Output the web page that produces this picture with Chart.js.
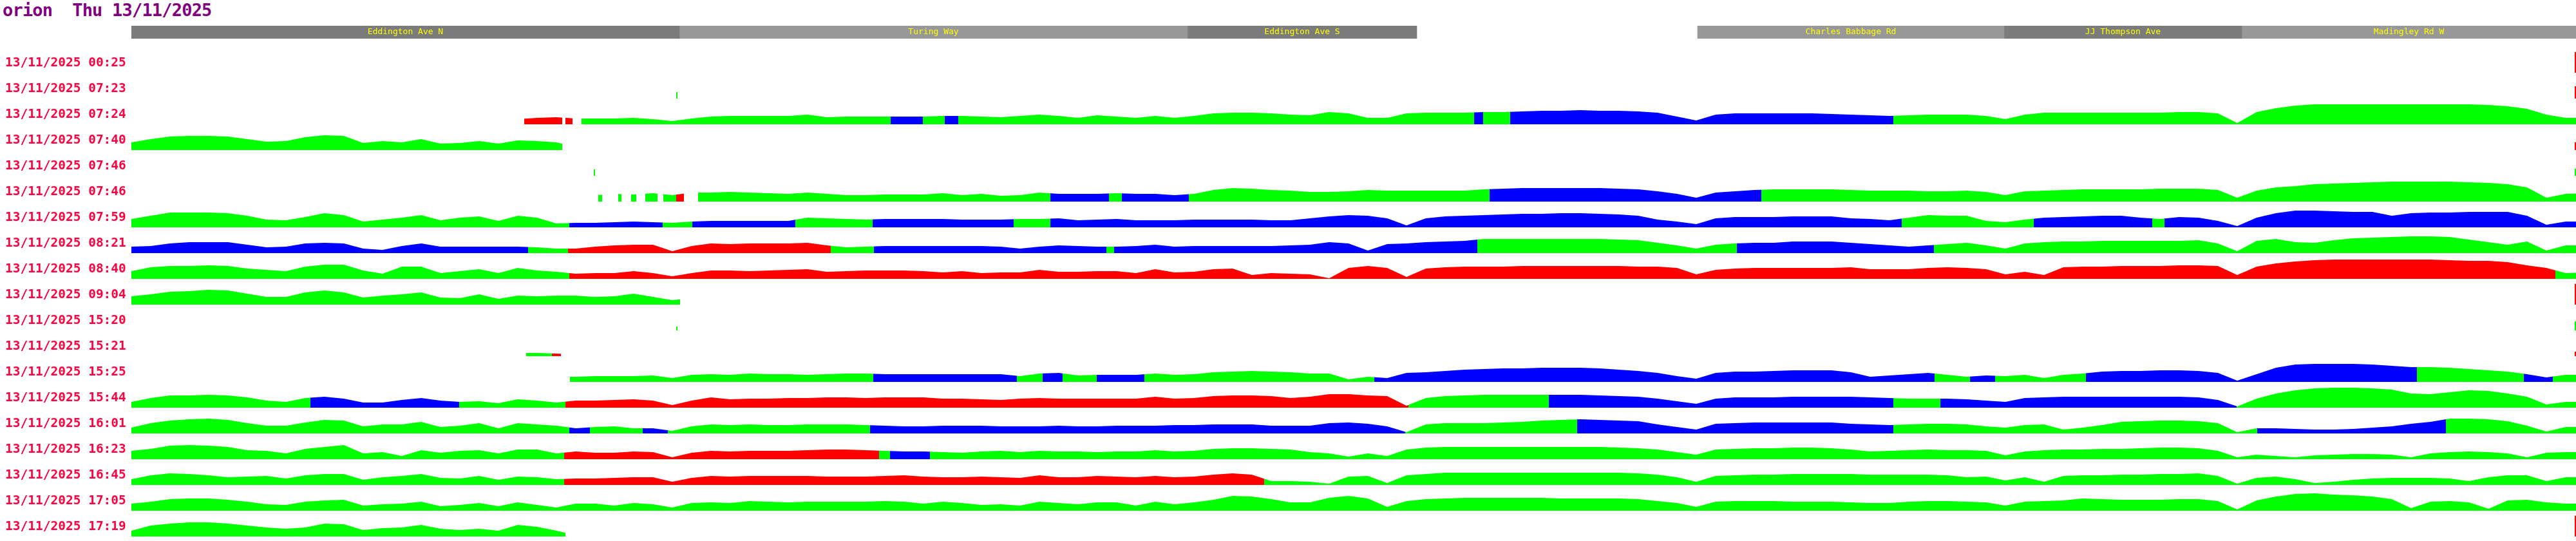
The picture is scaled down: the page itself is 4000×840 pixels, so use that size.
<!DOCTYPE html>
<html>
<head>
<meta charset="utf-8">
<script src="https://cdn.jsdelivr.net/npm/chart.js@4.4.1/dist/chart.umd.min.js"></script>
<style>
  html, body { margin: 0; padding: 0; background: #fff; }
  #wrap { position: relative; width: 4000px; height: 840px; }
  #title { position: absolute; left: 4px; top: 2px; font: bold 27px/27px "DejaVu Sans Mono", monospace;
           letter-spacing: -0.8px; color: #800080; white-space: pre; }
  #streets { position: absolute; left: 0; top: 40px; }
  #trips { position: absolute; left: 0; top: 60px; }
</style>
</head>
<body>
<div id="wrap">
  <div id="title">orion  Thu 13/11/2025</div>
  <canvas id="streets" width="4000" height="20"></canvas>
  <canvas id="trips" width="4000" height="780"></canvas>
</div>
<script>
/* ---------- route streets (header strip) ---------- */
const streetNames = ["Eddington Ave N", "Turing Way", "Eddington Ave S", "Charles Babbage Rd", "JJ Thompson Ave", "Madingley Rd W"];
const streetFrom  = [0, 851, 1640, 2432, 2908, 3277];
const streetTo    = [851, 1640, 1996, 2908, 3277, 3796];
const streetShade = ["#7b7b7b", "#989898", "#7b7b7b", "#989898", "#7b7b7b", "#989898"];

/* ---------- trips ---------- */
const tripLabels = [
  "13/11/2025 00:25", "13/11/2025 07:23", "13/11/2025 07:24", "13/11/2025 07:40",
  "13/11/2025 07:46", "13/11/2025 07:46", "13/11/2025 07:59", "13/11/2025 08:21",
  "13/11/2025 08:40", "13/11/2025 09:04", "13/11/2025 15:20", "13/11/2025 15:21",
  "13/11/2025 15:25", "13/11/2025 15:44", "13/11/2025 16:01", "13/11/2025 16:23",
  "13/11/2025 16:45", "13/11/2025 17:05", "13/11/2025 17:19",
];
// route position of the first speed sample of each trip
const tripStart = [0, 0, 600, 0, 0, 720, 0, 0, 0, 0, 0, 600, 660, 0, 0, 0, 0, 0, 0];

// speed samples, one every 30 m along the route
const s0025 = [];
const s0723 = [];
const s0724 = [
  8,10,11,9,9,9,10,8,5,9, 12,13,13,13,13,15,11,12,12,12, 12,12,13,13,12,11,13,15,13,10,
  14,12,10,13,10,13,17,18,18,17, 15,14,19,17,10,10,17,18,18,18, 19,19,20,21,21,22,21,21,20,18,
  12,6,15,17,17,17,17,17,16,15, 14,13,14,15,15,15,13,8,15,18, 18,18,18,18,18,18,19,19,17,2,
  19,25,29,31,31,31,31,31,31,31, 31,31,30,28,24,15,10,10];
const s0740 = [12,17,21,22,22,21,17,13,14,20, 23,22,11,14,12,17,10,11,14,10, 15,14,12,5];
const s0746a = [];
const s0746b = [
  10,12,11,13,10,14, 14,15,14,13,12,14,12,10,10,11, 11,11,13,10,12,9,10,14,12,12,
  12,13,12,12,10,12,18,21,20,18, 17,15,15,16,18,17,17,17,17,17, 19,20,21,21,21,21,21,20,19,16,
  12,6,14,16,18,19,19,19,19,18, 17,17,17,16,16,17,15,10,16,17, 18,19,19,19,19,20,20,20,18,6,
  17,22,24,27,28,29,30,31,31,31, 31,30,29,27,22,6,12,13];
const s0759 = [
  13,18,23,23,23,22,18,12,11,16, 22,19,9,12,15,19,11,15,17,10, 18,15,6,7,7,8,9,8,7,9,
  10,10,10,10,10,15,14,13,12,13, 13,13,13,12,12,12,13,13,14,11, 12,13,11,11,11,12,12,12,12,11,
  11,14,17,19,18,14,3,14,17,18, 19,20,21,21,22,22,21,20,18,12, 9,5,14,16,16,16,17,17,17,14,
  13,11,15,19,18,18,10,8,12,15, 16,17,18,18,15,13,16,15,10,2, 15,22,26,26,25,24,24,18,22,23,
  23,24,24,24,18,4,9,9];
const s0821 = [
  10,11,15,17,17,17,13,9,10,15, 16,15,7,5,11,15,10,10,10,10, 10,9,7,7,10,12,13,13,3,11,
  15,14,15,15,15,16,12,9,10,11, 11,11,11,11,11,10,7,10,12,11, 10,10,11,13,10,11,11,11,11,11,
  12,13,17,15,4,14,15,17,18,19, 22,22,22,22,22,22,22,21,20,16, 12,7,13,15,16,16,18,18,18,16,
  14,12,10,12,14,16,12,7,15,17, 18,18,19,19,19,19,19,20,15,3, 19,22,17,16,20,23,24,25,26,26,
  25,21,17,13,18,4,12,12];
const s0840 = [
  12,18,20,20,21,20,16,14,12,19, 22,22,13,8,19,19,9,12,15,9, 17,13,11,8,9,9,12,9,4,9,
  13,13,12,13,14,15,11,12,13,13, 13,12,10,12,9,10,10,14,11,11, 12,12,9,15,10,11,15,16,6,9,
  8,7,1,17,20,17,3,16,18,19, 19,19,20,20,20,20,20,20,19,19, 17,7,14,16,17,17,17,17,17,18,
  15,15,15,17,18,17,15,7,11,6, 18,19,19,20,20,20,21,21,20,6, 19,24,27,29,30,30,30,30,30,30,
  29,28,28,26,21,17,9,10];
const s0904 = [13,16,20,21,23,22,17,12,12,19, 22,19,11,14,16,19,11,10,16,9, 14,13,14,14,12,13,17,12,7,10];
const s1520 = [];
const s1521 = [5,5,4,3];
const s1525 = [
  8,8,9,9,9,10,6,11, 12,11,13,12,12,11,12,13,13,12, 12,12,12,12,12,12,9,13,14,10,
  11,11,11,13,11,12,15,16,17,16, 15,13,13,4,8,6,14,15,17,19, 20,21,21,22,22,22,21,19,17,14,
  9,5,14,16,16,17,18,18,18,15, 8,10,12,14,11,8,10,9,11,6, 11,13,16,17,17,18,18,17,14,2,
  12,22,27,28,28,28,27,25,23,23, 22,20,18,16,12,7,11,11];
const s1544 = [
  9,15,19,19,20,19,16,11,9,15, 17,14,8,8,12,15,11,9,10,7, 13,11,8,11,11,12,13,11,4,11,
  16,13,14,14,15,15,16,16,15,16, 16,16,14,14,13,12,14,15,14,14, 14,14,14,17,14,15,18,19,19,18,
  15,17,21,21,19,18,3,15,18,19, 20,20,20,20,20,20,19,18,17,14, 10,6,14,16,16,16,17,17,17,17,
  16,15,14,14,14,13,11,9,15,16, 17,17,17,17,17,17,17,16,12,2, 14,22,27,30,31,31,30,28,22,21,
  24,27,26,22,17,5,9,9];
const s1601 = [
  9,16,20,22,23,21,16,12,12,17, 21,20,11,14,14,18,10,12,16,8, 16,14,12,8,10,11,8,8,4,11,
  14,13,14,13,13,14,14,14,13,12, 11,11,12,12,12,11,11,11,12,11, 11,12,12,12,13,13,14,14,14,12,
  12,12,16,17,15,11,2,14,16,16, 16,17,18,20,21,22,21,20,19,14, 10,6,15,16,17,17,17,17,17,15,
  14,13,14,15,15,14,11,9,13,14, 6,9,13,18,19,20,20,19,16,2, 8,8,7,6,6,7,9,11,15,18,
  23,23,22,19,12,3,10,10];
const s1623 = [
  13,16,21,22,21,19,14,13,9,16, 19,22,9,11,5,14,10,13,14,9, 15,15,9,12,10,10,12,11,3,10,
  13,12,13,13,13,14,15,15,14,13, 12,12,11,10,12,13,11,13,12,12, 11,12,12,14,12,13,16,17,17,16,
  15,11,9,4,9,5,15,18,19,19, 19,19,19,19,19,19,19,18,17,15, 11,7,15,16,17,17,18,18,17,15,
  12,13,14,15,14,14,13,6,12,14, 15,15,16,16,17,18,18,17,13,3, 7,5,3,6,7,8,8,7,3,9,
  11,12,11,9,3,10,11,11];
const s1645 = [
  9,15,18,17,15,12,13,14,10,15, 17,17,8,12,14,17,11,10,14,8, 13,12,9,10,10,11,12,12,5,11,
  14,13,14,14,14,14,13,13,13,14, 15,13,12,12,13,12,11,15,12,12, 14,13,12,14,12,13,16,18,16,6,
  6,5,2,13,14,3,15,17,19,19, 19,19,19,19,19,19,19,19,18,16, 12,5,14,15,16,16,17,17,17,17,
  16,16,16,16,15,12,13,7,12,5, 14,15,15,16,16,17,17,18,14,2, 11,13,9,3,5,8,10,11,11,11,
  10,6,12,15,15,6,12,12];
const s1705 = [
  11,14,18,19,19,17,14,10,9,14, 16,17,8,10,11,14,7,9,12,7, 13,9,5,11,11,8,12,10,5,12,
  13,12,15,14,13,14,14,14,14,15, 14,11,14,12,9,10,8,14,12,10, 13,13,8,14,10,13,17,23,22,18,
  13,13,20,23,19,6,15,18,19,20, 20,20,20,20,19,19,19,19,18,15, 12,6,14,15,15,15,14,14,14,13,
  12,12,14,15,15,14,13,8,14,15, 16,19,18,17,17,17,18,18,15,2, 16,22,26,27,25,24,22,18,4,14,
  15,13,3,16,17,13,11,11];
const s1719 = [9,17,20,22,22,20,17,14,12,14, 20,19,10,13,14,18,12,10,12,9, 18,15,9,2];

// speed class along the route: [from, to, class]  g = normal, b = slow, r = very slow
const c0025 = [];
const c0723 = [];
const c0724 = [[610,669,"r"],[674,685,"r"],[699,1179,"g"],[1179,1229,"b"],[1229,1263,"g"],[1263,1284,"b"],
  [1284,2085,"g"],[2085,2099,"b"],[2099,2141,"g"],[2141,2736,"b"],[2736,3800,"g"]];
const c0740 = [[0,669,"g"]];
const c0746a = [];
const c0746b = [[725,731,"g"],[756,761,"g"],[776,784,"g"],[798,817,"g"],[826,846,"g"],[846,858,"r"],
  [880,1427,"g"],[1427,1518,"b"],[1518,1538,"g"],[1538,1642,"b"],[1642,2109,"g"],[2109,2531,"b"],[2531,3800,"g"]];
const c0759 = [[0,680,"g"],[680,825,"b"],[825,871,"g"],[871,1031,"b"],[1031,1151,"g"],[1151,1370,"b"],
  [1370,1427,"g"],[1427,2749,"b"],[2749,2954,"g"],[2954,3138,"b"],[3138,3157,"g"],[3157,3800,"b"]];
const c0821 = [[0,616,"b"],[616,678,"g"],[678,1086,"r"],[1086,1153,"g"],[1153,1514,"b"],[1514,1526,"g"],
  [1526,2090,"b"],[2090,2493,"g"],[2493,2799,"b"],[2799,3800,"g"]];
const c0840 = [[0,680,"g"],[680,3764,"r"],[3764,3800,"g"]];
const c0904 = [[0,852,"g"]];
const c1520 = [];
const c1521 = [[613,653,"g"],[653,667,"r"]];
const c1525 = [[681,1152,"g"],[1152,1375,"b"],[1375,1415,"g"],[1415,1446,"b"],[1446,1499,"g"],[1499,1573,"b"],
  [1573,1930,"g"],[1930,2800,"b"],[2800,2855,"g"],[2855,2894,"b"],[2894,3035,"g"],[3035,3549,"b"],
  [3549,3715,"g"],[3715,3760,"b"],[3760,3800,"g"]];
const c1544 = [[0,278,"g"],[278,509,"b"],[509,674,"g"],[674,1983,"r"],[1983,2201,"g"],[2201,2736,"b"],
  [2736,2809,"g"],[2809,3269,"b"],[3269,3800,"g"]];
const c1601 = [[0,680,"g"],[680,712,"b"],[712,794,"g"],[794,833,"b"],[833,1147,"g"],[1147,1978,"b"],
  [1978,2245,"g"],[2245,2736,"b"],[2736,3301,"g"],[3301,3594,"b"],[3594,3800,"g"]];
const c1623 = [[0,672,"g"],[672,1161,"r"],[1161,1178,"g"],[1178,1240,"b"],[1240,3800,"g"]];
const c1645 = [[0,672,"g"],[672,1759,"r"],[1759,3800,"g"]];
const c1705 = [[0,3800,"g"]];
const c1719 = [[0,674,"g"]];

// single position pings (trip row, route position, length, class)
const pingRow = [0, 1, 1, 3, 4, 4, 9, 10, 10, 11, 18];
const pingPos = [3795, 847, 3795, 3795, 719, 3795, 3795, 847, 3795, 3795, 3795];
const pingLen = [32, 10, 19, 12, 10, 11, 32, 6, 14, 7, 32];
const pingCls = ["r", "g", "r", "r", "g", "g", "r", "g", "g", "r", "r"];

const tripSpeeds = [s0025, s0723, s0724, s0740, s0746a, s0746b, s0759, s0821, s0840, s0904,
  s1520, s1521, s1525, s1544, s1601, s1623, s1645, s1705, s1719];
const tripRuns = [c0025, c0723, c0724, c0740, c0746a, c0746b, c0759, c0821, c0840, c0904,
  c1520, c1521, c1525, c1544, c1601, c1623, c1645, c1705, c1719];

/* ---------- drawing ---------- */
const STEP = 30;        // metres between samples
const ROW = 40;         // height of one trip band
const ROUTE_END = 3796;
const PAL = { g: "#00ff00", b: "#0000ff", r: "#ff0000" };
const CLEAR = "rgba(0,0,0,0)";

function rowBase(i) {
  return (tripLabels.length - 1 - i) * ROW;
}

// hard-edged horizontal gradient following the class runs
function bandFill(runs) {
  return (c) => {
    const chart = c.chart;
    const xs = chart.scales.x;
    if (!chart.chartArea || !xs) return CLEAR;
    const w = xs.right - xs.left;
    const f = (v) => Math.min(1, Math.max(0, (xs.getPixelForValue(v) - xs.left) / w));
    const g = chart.ctx.createLinearGradient(xs.left, 0, xs.right, 0);
    g.addColorStop(0, CLEAR);
    runs.forEach(([a, b, k]) => {
      g.addColorStop(f(a), CLEAR);
      g.addColorStop(f(a), PAL[k]);
      g.addColorStop(f(b), PAL[k]);
      g.addColorStop(f(b), CLEAR);
    });
    g.addColorStop(1, CLEAR);
    return g;
  };
}

const bands = tripLabels.map((lab, i) => {
  const base = rowBase(i);
  return {
    label: lab,
    data: tripSpeeds[i].map((v, k) => ({ x: tripStart[i] + k * STEP, y: v == null ? null : base + v })),
    fill: { value: base },
    backgroundColor: bandFill(tripRuns[i]),
    borderColor: CLEAR,
    borderWidth: 0,
    pointRadius: 0,
    tension: 0,
  };
});

const pings = {
  label: "pings",
  data: pingRow.map((r, j) => ({ x: pingPos[j], y: rowBase(r) + pingLen[j] / 2 })),
  showLine: false,
  fill: false,
  pointStyle: "line",
  pointRotation: 90,
  pointRadius: pingLen.map((h) => h / 2),
  pointBorderWidth: 2,
  pointBorderColor: pingCls.map((k) => PAL[k]),
  pointBackgroundColor: pingCls.map((k) => PAL[k]),
};

new Chart(document.getElementById("trips"), {
  type: "line",
  data: { datasets: [...bands, pings] },
  options: {
    responsive: false,
    animation: false,
    devicePixelRatio: 1,
    layout: { autoPadding: false, padding: { left: 8, right: 0, top: 0, bottom: 0 } },
    plugins: { legend: { display: false }, tooltip: { enabled: false } },
    scales: {
      x: { type: "linear", min: 0, max: ROUTE_END, display: false },
      y: {
        type: "linear",
        min: -7,
        max: 773,   // top band baseline sits 53px below the top
        grid: { display: false, drawTicks: false },
        border: { display: false },
        afterBuildTicks: (s) => {
          s.ticks = tripLabels.map((_, i) => ({ value: rowBase(i) + 15.5 }));
        },
        afterFit: (s) => {
          s.width = 196;
          s.paddingTop = 0;
          s.paddingBottom = 0;
        },
        ticks: {
          autoSkip: false,
          crossAlign: "far",
          padding: 0,
          color: "#ff0040",
          font: { family: "DejaVu Sans Mono", size: 19.5, weight: "bold" },
          callback: (v, idx) => tripLabels[idx],
        },
      },
    },
  },
});

/* street name strip */
const streetText = {
  id: "streetText",
  afterDatasetsDraw(chart) {
    const ctx = chart.ctx;
    ctx.save();
    ctx.fillStyle = "#ffff00";
    ctx.font = '13px "DejaVu Sans Mono"';
    ctx.textAlign = "center";
    ctx.textBaseline = "middle";
    chart.data.datasets.forEach((ds, j) => {
      const bar = chart.getDatasetMeta(j).data[0];
      if (!bar) return;
      const p = bar.getProps(["x", "y", "base"], true);
      ctx.fillText(ds.label, (p.x + p.base) / 2, p.y);
    });
    ctx.restore();
  },
};

new Chart(document.getElementById("streets"), {
  type: "bar",
  data: {
    labels: ["route"],
    datasets: streetNames.map((n, j) => ({
      label: n,
      data: [[streetFrom[j], streetTo[j]]],
      backgroundColor: streetShade[j],
      borderWidth: 0,
      barPercentage: 1,
      categoryPercentage: 1,
      grouped: false,
    })),
  },
  options: {
    indexAxis: "y",
    responsive: false,
    animation: false,
    devicePixelRatio: 1,
    layout: { autoPadding: false, padding: { left: 204, right: 0, top: 0, bottom: 0 } },
    plugins: { legend: { display: false }, tooltip: { enabled: false } },
    scales: {
      x: { type: "linear", min: 0, max: ROUTE_END, display: false },
      y: { display: false },
    },
  },
  plugins: [streetText],
});
</script>
</body>
</html>
